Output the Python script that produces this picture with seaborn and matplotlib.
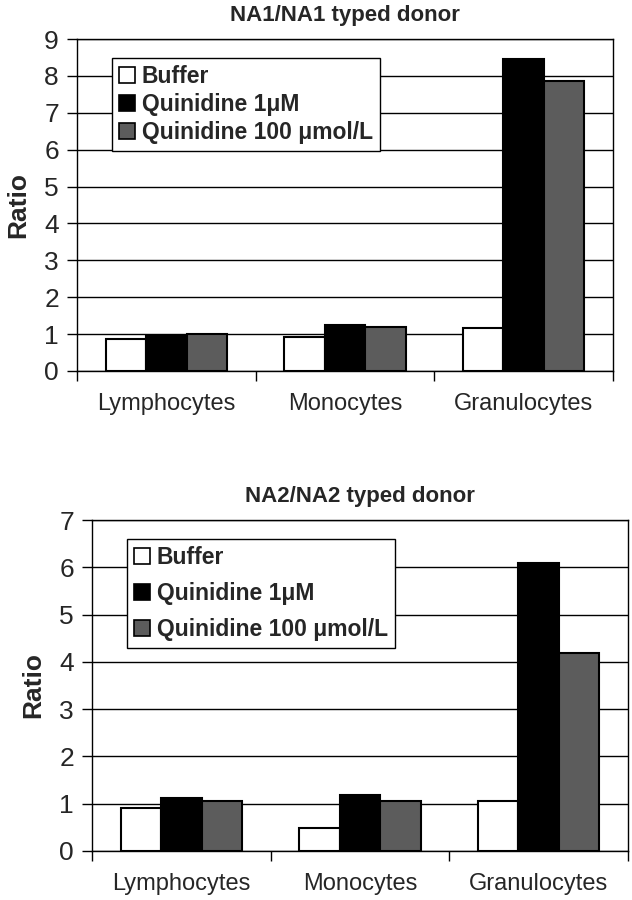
import pandas as pd
import seaborn as sns
import matplotlib.pyplot as plt
from matplotlib.patches import Patch

cells = ['Lymphocytes', 'Monocytes', 'Granulocytes']
treatments = ['Buffer', 'Quinidine 1μM', 'Quinidine 100 μmol/L']

# NA1/NA1 donor
na1_buffer = [0.87, 0.92, 1.16]
na1_q1 = [0.94, 1.25, 8.45]
na1_q100 = [1.01, 1.18, 7.85]

# NA2/NA2 donor
na2_buffer = [0.90, 0.49, 1.05]
na2_q1 = [1.12, 1.18, 6.09]
na2_q100 = [1.06, 1.06, 4.19]

colors = ['white', 'black', '#5c5c5c']

sns.set_style('white')
plt.rcParams['font.family'] = ['Liberation Sans', 'DejaVu Sans']


def make_df(buf, q1, q100):
    rows = []
    for vals, t in zip([buf, q1, q100], treatments):
        for c, v in zip(cells, vals):
            rows.append({'cell': c, 'treatment': t, 'ratio': v})
    return pd.DataFrame(rows)


def draw(ax, df, ymax, title, spacing):
    sns.barplot(data=df, x='cell', y='ratio', hue='treatment',
                hue_order=treatments, palette=colors, edgecolor='black',
                linewidth=1.5, width=0.68, saturation=1, legend=False, ax=ax)
    ax.set_xlim(-0.5, 2.5)
    ax.set_ylim(0, ymax)
    ax.set_yticks(range(0, ymax + 1))
    ax.yaxis.grid(True, color='black', linewidth=1)
    ax.set_axisbelow(True)

    # category labels between boundary ticks
    ax.set_xticks([-0.5, 0.5, 1.5, 2.5])
    ax.set_xticklabels([])
    ax.set_xticks([0, 1, 2], minor=True)
    ax.set_xticklabels(cells, minor=True)
    ax.tick_params(axis='x', which='major', direction='out', length=7,
                   width=1, color='black', bottom=True)
    ax.tick_params(axis='x', which='minor', length=0, labelsize=17, pad=16)
    ax.tick_params(axis='y', direction='out', length=7, width=1,
                   color='black', left=True, labelsize=19, pad=6)

    for s in ['left', 'bottom', 'right', 'top']:
        ax.spines[s].set_visible(True)
        ax.spines[s].set_color('black')
        ax.spines[s].set_linewidth(1)

    ax.set_xlabel('')
    ax.set_ylabel('Ratio', fontsize=19, fontweight='bold', labelpad=10)
    ax.set_title(title, fontsize=16, fontweight='bold', pad=13)

    handles = [Patch(facecolor=c, edgecolor='black', linewidth=1.2) for c in colors]
    leg = ax.legend(handles, treatments, loc='upper left',
                    bbox_to_anchor=(0.065, 0.943), frameon=True,
                    fancybox=False, framealpha=1, edgecolor='black',
                    prop={'weight': 'bold', 'size': 16.5},
                    handlelength=0.7, handleheight=0.7, handletextpad=0.3,
                    labelspacing=spacing, borderpad=0.3, borderaxespad=0)
    leg.get_frame().set_linewidth(1)


fig = plt.figure(figsize=(6.32, 9), dpi=100)
ax1 = fig.add_axes([77 / 632, 1 - 371 / 900, (613 - 77) / 632, 332 / 900])
ax2 = fig.add_axes([92 / 632, 1 - 851 / 900, (628 - 92) / 632, 331 / 900])

draw(ax1, make_df(na1_buffer, na1_q1, na1_q100), 9, 'NA1/NA1 typed donor', 0.22)
draw(ax2, make_df(na2_buffer, na2_q1, na2_q100), 7, 'NA2/NA2 typed donor', 0.57)

fig.savefig('out.png', dpi=100)
